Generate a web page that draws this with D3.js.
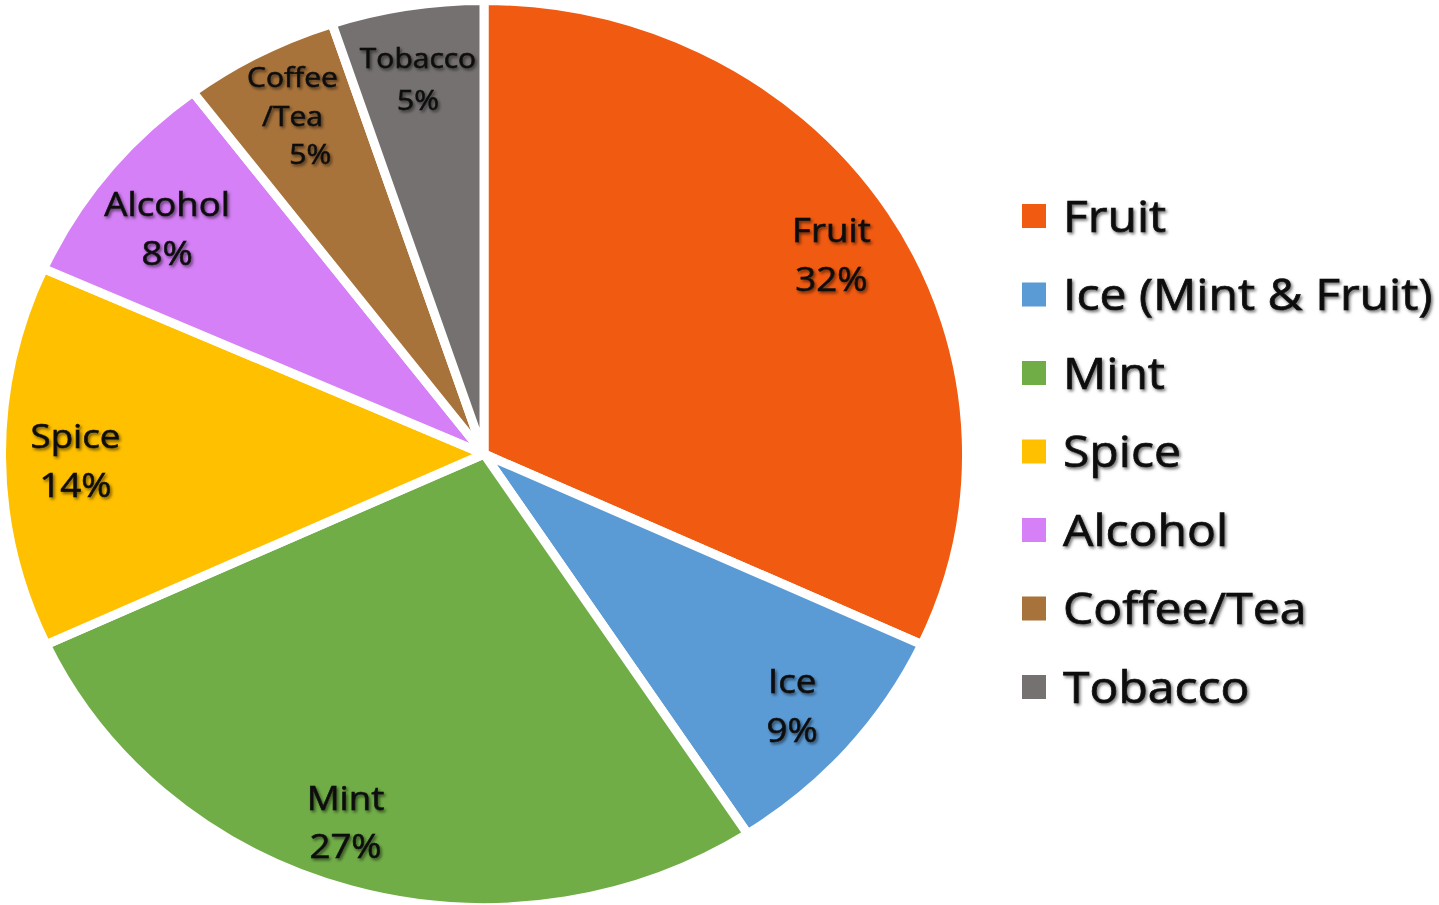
<!DOCTYPE html>
<html><head><meta charset="utf-8">
<script src="https://cdn.jsdelivr.net/npm/d3@7"></script>
<style>html,body{margin:0;padding:0;background:#fff;overflow:hidden}</style>
</head><body>
<svg id="chart" width="1439" height="905"></svg>
<script>
const categories = ["Fruit","Ice","Mint","Spice","Alcohol","Coffee/Tea","Tobacco"];
const legendLabels = ["Fruit","Ice (Mint & Fruit)","Mint","Spice","Alcohol","Coffee/Tea","Tobacco"];
const values = [31.9, 8.9, 27.3, 13.6, 8.0, 5.2, 5.1];
const sliceLabels = [["Fruit","32%"],["Ice","9%"],["Mint","27%"],["Spice","14%"],["Alcohol","8%"],["Coffee","/Tea","5%"],["Tobacco","5%"]];
const colors = ["#F15A11","#5B9BD5","#70AD47","#FFC000","#D580F6","#A8733B","#767171"];

const svg = d3.select("#chart");
const defs = svg.append("defs");
const f = defs.append("filter").attr("id","sh").attr("x","-20%").attr("y","-20%").attr("width","140%").attr("height","140%");
f.append("feDropShadow").attr("dx",1.5).attr("dy",2).attr("stdDeviation",1.6).attr("flood-color","#000").attr("flood-opacity",0.55);

const cx = 484, cy = 454, R = 453.5, sx = 1.064, tx = 1.11, txLeg = 1.093;
const g = svg.append("g").attr("transform",`translate(${cx},${cy}) scale(${sx},1)`);
const pie = d3.pie().value(d=>d).sort(null);
const arcs = pie(values);
const arc = d3.arc().innerRadius(0).outerRadius(R);
g.selectAll("path.slice").data(arcs).join("path")
  .attr("class","slice")
  .attr("d",arc)
  .attr("fill",(d,i)=>colors[i])
  .attr("stroke","#fff").attr("stroke-width",9).attr("stroke-linejoin","round")
  .attr("vector-effect","non-scaling-stroke");

// per-label text layout settings
const labelSize = [33,33,33,33,33,27,27];
const labelLH = [49,49,49,49,49,38.5,42];
const labelNudge = [[4,7],[0,1],[-26,0],[-1,4],[2,13],[-2,1],[-1,3]];
const labelRad = 383;
const labelArc = d3.arc().innerRadius(labelRad).outerRadius(labelRad);
const lg = svg.append("g").selectAll("g.lbl").data(arcs).join("g").attr("class","lbl")
  .attr("transform",(d,i)=>{const c=labelArc.centroid(d);
    return `translate(${cx+c[0]*sx+labelNudge[i][0]},${cy+c[1]+labelNudge[i][1]}) scale(${tx},1)`;});
lg.each(function(d,i){
  const lines = sliceLabels[i];
  const lh = labelLH[i];
  const t = d3.select(this).append("text")
    .attr("text-anchor","middle")
    .attr("font-family","'Open Sans', Lato, sans-serif")
    .attr("font-size",labelSize[i]).attr("fill","#111")
    .attr("stroke","#111").attr("stroke-width",0.6)
    .attr("filter","url(#sh)");
  lines.forEach((s,k)=>{
    t.append("tspan").attr("x",(i===5 && k===2)?16:0).attr("y",(k-(lines.length-1)/2)*lh).attr("dy","0.36em").text(s);
  });
});

// legend
const leg = svg.append("g").attr("transform","translate(1022,0)");
const rowY = d3.scalePoint().domain(legendLabels).range([216,687]);
const items = leg.selectAll("g").data(legendLabels).join("g")
  .attr("transform",d=>`translate(0,${rowY(d)})`);
items.append("rect").attr("x",0).attr("y",-12).attr("width",24).attr("height",24)
  .attr("fill",(d,i)=>colors[i]);
items.append("text").attr("transform",`translate(41,0) scale(${txLeg},1)`).attr("dy","0.36em")
  .attr("font-family","'Open Sans', Lato, sans-serif").attr("font-size",44).attr("fill","#111")
  .attr("stroke","#111").attr("stroke-width",0.7)
  .attr("filter","url(#sh)")
  .text(d=>d);
</script>
</body></html>
